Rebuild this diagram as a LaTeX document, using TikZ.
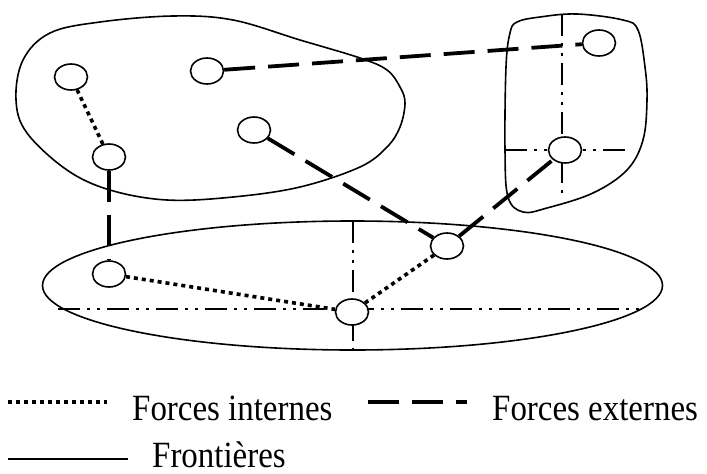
\documentclass[tikz,border=0pt]{standalone}
\usepackage{fontspec}
\setmainfont{Liberation Serif}
\usetikzlibrary{shapes.geometric}
\begin{document}
\begin{tikzpicture}[x=1pt, y=-1pt,
    pt/.style={draw, ellipse, line width=1.6pt, minimum width=33pt, minimum height=26pt, inner sep=0pt, fill=white},
    frontier/.style={line width=1.6pt},
    interne/.style={line width=3.6pt, dash pattern=on 4pt off 4pt},
    externe/.style={line width=3.8pt, dash pattern=on 31pt off 13pt},
    axe/.style={line width=2pt, dash pattern=on 22pt off 7pt on 3pt off 7pt on 3pt off 7pt},
    legende/.style={anchor=base west, inner sep=0pt, font=\fontsize{37}{40}\selectfont}]
\useasboundingbox (0,0) rectangle (707,474);

% frontieres
\draw[frontier] plot[smooth cycle, tension=0.6] coordinates {(173,16) (233,20) (300,40) (360,58) (387,70) (400,87) (405,103) (400,127) (387,147) (360,167) (300,187) (233,197) (167,200) (110,190) (67,170) (27,133) (16,100) (23,60) (50,33) (100,22)};
\draw[frontier] plot[smooth cycle, tension=0.6] coordinates {(540,17) (577,14) (623,20) (638,30) (645,67) (647,100) (643,140) (627,170) (593,193) (547,208) (523,212) (508,197) (505,150) (506,67) (510,33) (517,22)};
\draw[frontier] (352.5,285.5) ellipse [x radius=310, y radius=64.5];

% axes
\draw[axe] (562,14) -- (562,200);
\draw[axe] (505,150) -- (627,150);
\draw[axe] (353,221) -- (353,350);
\draw[axe] (58,309) -- (646,309);

% points
\node[pt] (a) at (71,77) {};
\node[pt] (b) at (207,71) {};
\node[pt] (c) at (254,130) {};
\node[pt] (d) at (109,157) {};
\node[pt] (e) at (599,43) {};
\node[pt] (f) at (565,150) {};
\node[pt] (g) at (109,274) {};
\node[pt] (h) at (352,312) {};
\node[pt] (i) at (447,246) {};

% forces
\draw[interne] (a) -- (d);
\draw[interne] (g) -- (h);
\draw[interne] (h) -- (i);
\draw[externe] (b) -- (e);
\draw[externe] (c) -- (i);
\draw[externe] (d) -- (g);
\draw[externe] (i) -- (f);

% legende
\coordinate (l1a) at (8,402); \coordinate (l1b) at (107,402);
\coordinate (l2a) at (368,402); \coordinate (l2b) at (467,402);
\coordinate (l3a) at (8,459); \coordinate (l3b) at (128,459);
\draw[interne] (l1a) -- (l1b);
\draw[externe] (l2a) -- (l2b);
\draw[frontier] (l3a) -- (l3b);
\node[legende] (t1) at (132,420) {\scalebox{0.89}[1]{Forces internes}};
\node[legende] (t2) at (492,420) {\scalebox{0.89}[1]{Forces externes}};
\node[legende] (t3) at (152,467) {\scalebox{0.89}[1]{Frontières}};
\end{tikzpicture}
\end{document}
